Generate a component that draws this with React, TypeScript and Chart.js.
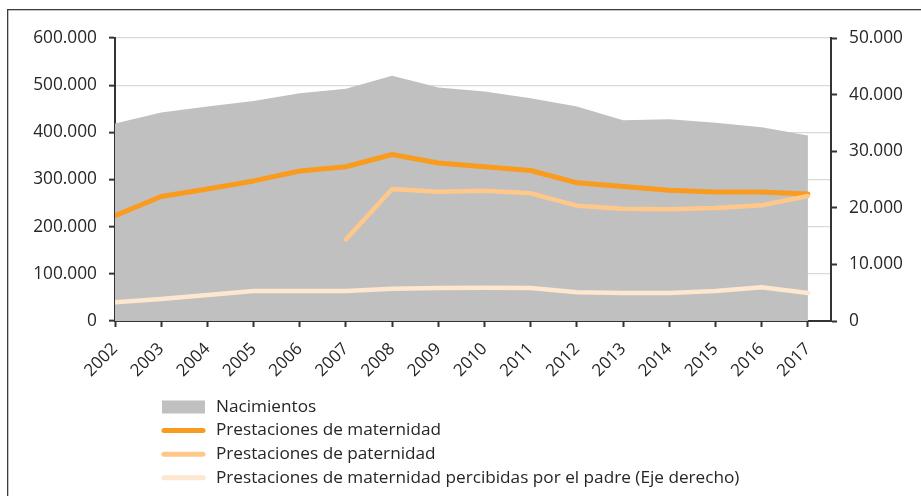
import React, { useEffect, useRef } from "react";
import { Chart, registerables } from "chart.js";

Chart.register(...registerables);

const years = [2002, 2003, 2004, 2005, 2006, 2007, 2008, 2009, 2010, 2011, 2012, 2013, 2014, 2015, 2016, 2017];
const nacimientos = [418846, 441881, 454591, 466371, 482957, 492527, 519779, 494997, 486575, 471999, 454648, 425715, 427595, 420290, 410583, 393181];
const maternidad = [223000, 264000, 280000, 297000, 318000, 327000, 353000, 335000, 327000, 319000, 293000, 285000, 277000, 273500, 273500, 269000];
const paternidad = [null, null, null, null, null, 173000, 280000, 274000, 276000, 270700, 244500, 238000, 236800, 239600, 245300, 265000];
const padre = [3300, 3880, 4600, 5300, 5280, 5300, 5700, 5830, 5890, 5830, 5070, 4950, 4950, 5300, 5950, 4950];

const leftTicks = [0, 100000, 200000, 300000, 400000, 500000, 600000];
const rightTicks = [0, 10000, 20000, 30000, 40000, 50000];

const labelNac = "Nacimientos";
const labelMat = "Prestaciones de maternidad";
const labelPat = "Prestaciones de paternidad";
const labelPadre = "Prestaciones de maternidad percibidas por el padre (Eje derecho)";

const colArea = "#c0c0c0";
const colMat = "#f99b1e";
const colPat = "#ffc88a";
const colPadre = "#fde7cf";
const textColor = "#262626";
const axisColor = "#333333";
const FONT = "'Open Sans', 'DejaVu Sans', sans-serif";

const fmt = (v: number) => String(Math.round(v)).replace(/\B(?=(\d{3})+(?!\d))/g, ".");

const framePlugin = {
  id: "frame",
  beforeDraw(chart: any) {
    const ctx = chart.ctx;
    ctx.save();
    ctx.fillStyle = "#ffffff";
    ctx.fillRect(0, 0, chart.width, chart.height);
    ctx.fillStyle = "#3c3c3c";
    ctx.fillRect(7, 9, chart.width, 1.3);
    ctx.fillRect(7, 9, 1.3, chart.height);
    ctx.restore();
  },
};

const legendPlugin = {
  id: "customLegend",
  afterDraw(chart: any) {
    const ctx = chart.ctx;
    const ds = chart.data.datasets;
    ctx.save();
    const x0 = 162;
    const x1 = 205;
    const tx = 216;
    const y0 = 407;
    const step = 23.6;
    ds.forEach((d: any, i: number) => {
      const y = y0 + i * step;
      if (d.fill) {
        ctx.fillStyle = d.backgroundColor;
        ctx.fillRect(x0, y - 6.5, x1 - x0, 13);
      } else {
        ctx.strokeStyle = d.borderColor;
        ctx.lineWidth = 5;
        ctx.lineCap = "round";
        ctx.beginPath();
        ctx.moveTo(x0 + 2, y);
        ctx.lineTo(x1 - 2, y);
        ctx.stroke();
      }
      ctx.fillStyle = textColor;
      ctx.font = `17.2px ${FONT}`;
      ctx.textBaseline = "middle";
      ctx.textAlign = "left";
      ctx.fillText(d.label, tx, y);
    });
    ctx.restore();
  },
};

export default function App() {
  const ref = useRef<HTMLCanvasElement | null>(null);

  useEffect(() => {
    if (!ref.current) return;
    const tickFont = { family: FONT, size: 17.3 };
    const xFont = { family: FONT, size: 17 };
    const chart = new Chart(ref.current, {
      type: "line",
      data: {
        labels: years,
        datasets: [
          { label: labelNac, data: nacimientos, yAxisID: "y", fill: "origin", backgroundColor: colArea, borderColor: "rgba(0,0,0,0)", borderWidth: 0, pointRadius: 0, order: 10 },
          { label: labelMat, data: maternidad, yAxisID: "y", fill: false, borderColor: colMat, backgroundColor: colMat, borderWidth: 5, pointRadius: 0, borderCapStyle: "round", borderJoinStyle: "round", order: 3 },
          { label: labelPat, data: paternidad, yAxisID: "y", fill: false, borderColor: colPat, backgroundColor: colPat, borderWidth: 4.5, pointRadius: 0, borderCapStyle: "round", borderJoinStyle: "round", order: 2 },
          { label: labelPadre, data: padre, yAxisID: "y1", fill: false, borderColor: colPadre, backgroundColor: colPadre, borderWidth: 4.5, pointRadius: 0, borderCapStyle: "round", borderJoinStyle: "round", order: 1 },
        ],
      },
      options: {
        responsive: false,
        animation: false,
        layout: { padding: { left: 0, right: 0, top: 38, bottom: 0 } },
        plugins: { legend: { display: false }, tooltip: { enabled: false } },
        scales: {
          x: {
            type: "linear", min: 2002, max: 2017.5,
            afterBuildTicks: (s: any) => { s.ticks = years.map((v) => ({ value: v })); },
            afterFit: (s: any) => { s.height = 175; },
            grid: { drawOnChartArea: false, drawTicks: true, tickLength: 6, tickColor: axisColor, tickWidth: 2 },
            border: { color: axisColor, width: 2 },
            ticks: { callback: (v: any) => String(v), minRotation: 45, maxRotation: 45, autoSkip: false, padding: 12, font: xFont, color: textColor },
          },
          y: {
            type: "linear", position: "left", min: 0, max: 600000,
            afterBuildTicks: (s: any) => { s.ticks = leftTicks.map((v) => ({ value: v })); },
            afterFit: (s: any) => { s.width = 115; },
            grid: { color: "#d9d9d9", lineWidth: 1.3, drawTicks: true, tickLength: 6, tickColor: axisColor, tickWidth: 2 },
            border: { color: axisColor, width: 2 },
            ticks: { callback: (v: any) => fmt(v), padding: 12, font: tickFont, color: textColor },
          },
          y1: {
            type: "linear", position: "right", min: 0, max: 50000,
            afterBuildTicks: (s: any) => { s.ticks = rightTicks.map((v) => ({ value: v })); },
            afterFit: (s: any) => { s.width = 90; },
            grid: { drawOnChartArea: false, drawTicks: true, tickLength: 6, tickColor: axisColor, tickWidth: 2 },
            border: { color: axisColor, width: 2 },
            ticks: { callback: (v: any) => fmt(v), padding: 12, font: tickFont, color: textColor },
          },
        },
      },
      plugins: [framePlugin, legendPlugin],
    } as any);
    return () => chart.destroy();
  }, []);

  return (
    <div style={{ position: "fixed", left: 0, top: 0, width: 921, height: 496, overflow: "hidden", background: "#fff" }}>
      <canvas ref={ref} width={921} height={496} style={{ display: "block" }} />
    </div>
  );
}
